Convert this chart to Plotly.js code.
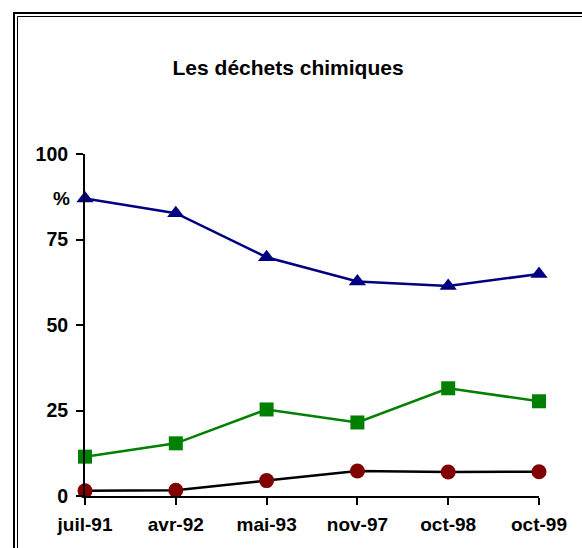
<!DOCTYPE html>
<html>
<head>
<meta charset="utf-8">
<script src="https://cdn.plot.ly/plotly-3.0.1.min.js"></script>
<style>html,body{margin:0;padding:0;background:#fff;}#chart{width:582px;height:548px;}</style>
</head>
<body>
<div id="chart"></div>
<script>
var categories = ["juil-91", "avr-92", "mai-93", "nov-97", "oct-98", "oct-99"];
var seriesBlue = [87, 82.7, 69.8, 62.7, 61.4, 64.9];
var seriesGreen = [11.5, 15.4, 25.3, 21.5, 31.5, 27.7];
var seriesRed = [1.5, 1.7, 4.5, 7.3, 7.0, 7.1];
var yTickVals = [0, 25, 50, 75, 100];
var yTickText = ["0", "25", "50", "75", "100"];

var fontFam = "Arial, 'Liberation Sans', sans-serif";

var traces = [
  {x: categories, y: seriesRed, type: "scatter", mode: "lines+markers", cliponaxis: false,
   line: {color: "#000000", width: 2.5},
   marker: {symbol: "circle", size: 15, color: "#800000"}},
  {x: categories, y: seriesGreen, type: "scatter", mode: "lines+markers", cliponaxis: false,
   line: {color: "#008000", width: 2.5},
   marker: {symbol: "square", size: 14, color: "#008000"}},
  {x: categories, y: seriesBlue, type: "scatter", mode: "lines+markers", cliponaxis: false,
   line: {color: "#000080", width: 2.5},
   marker: {symbol: "triangle-up", size: 15, color: "#000080"}}
];

var layout = {
  width: 582, height: 548,
  margin: {l: 85, r: 43, t: 154, b: 52},
  paper_bgcolor: "#ffffff", plot_bgcolor: "#ffffff",
  showlegend: false,
  font: {family: fontFam, color: "#000000"},
  title: {text: "Les déchets chimiques", font: {family: fontFam, size: 21, weight: "bold", color: "#000"},
          x: 0.495, xref: "container", xanchor: "center", y: 1 - 68/548, yref: "container", yanchor: "middle"},
  xaxis: {type: "category", range: [0, 5], showgrid: false, zeroline: false,
          showline: true, linecolor: "#000", linewidth: 2,
          ticks: "outside", ticklen: 7, tickwidth: 2, tickcolor: "#000", ticklabelstandoff: 3,
          tickfont: {family: fontFam, size: 19, weight: "bold", color: "#000"}},
  yaxis: {range: [0, 100], showgrid: false, zeroline: false,
          showline: true, linecolor: "#000", linewidth: 2,
          tickmode: "array", tickvals: yTickVals, ticktext: yTickText,
          ticks: "outside", ticklen: 7, tickwidth: 2, tickcolor: "#000", ticklabelstandoff: 4,
          tickfont: {family: fontFam, size: 19.5, weight: "bold", color: "#000"}},
  annotations: [
    {text: "%", xref: "paper", yref: "paper", x: (61.5 - 85) / 454, y: (496 - 198) / 342,
     xanchor: "center", yanchor: "middle", showarrow: false,
     font: {family: fontFam, size: 19, weight: "bold", color: "#000"}}
  ],
  shapes: [
    {type: "rect", xref: "paper", yref: "paper",
     x0: (14 - 85) / 454, x1: 1.3, y0: -0.3, y1: (496 - 13) / 342,
     line: {color: "#000", width: 2}, fillcolor: "rgba(0,0,0,0)", layer: "below"},
    {type: "rect", xref: "paper", yref: "paper",
     x0: (17.5 - 85) / 454, x1: 1.3, y0: -0.3, y1: (496 - 16.5) / 342,
     line: {color: "#000", width: 1}, fillcolor: "rgba(0,0,0,0)", layer: "below"}
  ]
};

Plotly.newPlot("chart", traces, layout, {displayModeBar: false, staticPlot: true});
</script>
</body>
</html>
